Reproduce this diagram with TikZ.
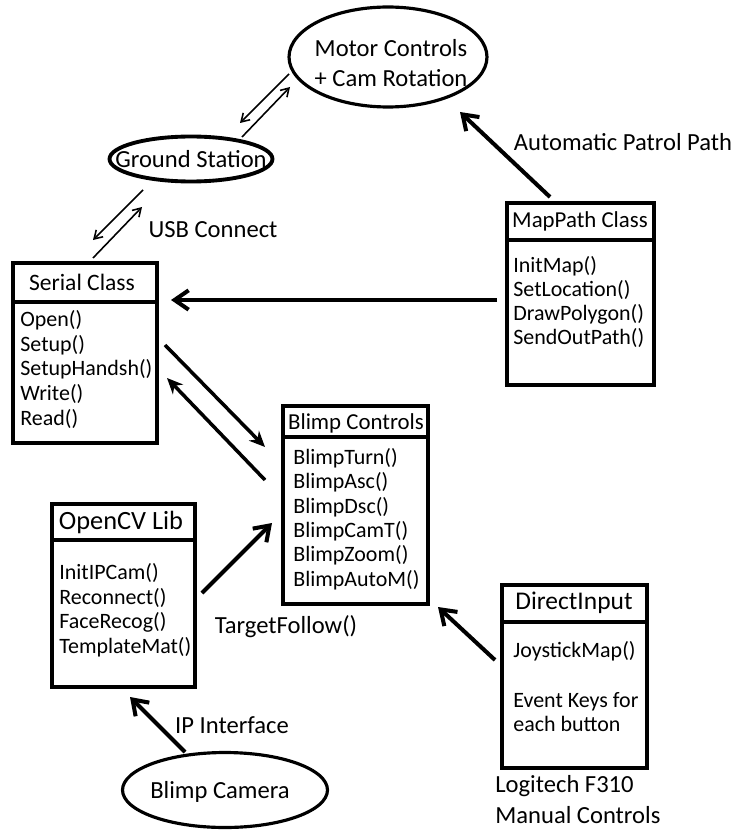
\documentclass[tikz,border=0pt]{standalone}
\usepackage{fontspec}
\setmainfont{Carlito}
\usetikzlibrary{arrows.meta,shapes.geometric}

\begin{document}
\begin{tikzpicture}[x=0.02cm, y=-0.02cm,
  classbox/.style={line width=2pt},
  oval/.style={draw, ellipse, line width=1.8pt, inner sep=0pt},
  lbl/.style={font=\fontsize{14}{17}\selectfont, inner sep=0pt},
  head/.style={font=\fontsize{13}{16}\selectfont, inner sep=0pt},
  item/.style={anchor=west, font=\fontsize{12.5}{15}\selectfont, inner sep=0pt, text height=8pt, text depth=3pt},
  bigarrow/.style={line width=2.3pt, -{Straight Barb[length=8pt,width=11pt]}},
  duplex/.style={line width=2pt, -{Stealth[length=9pt,width=8pt]}},
  thinarrow/.style={line width=0.9pt, -{Straight Barb[length=4.5pt,width=5.5pt]}}]
  \useasboundingbox (0,0) rectangle (735,831);

  % ovals
  \node[oval, minimum width=3.96cm, minimum height=2cm] (motor) at (388,57) {};
  \node[lbl, align=center] (motortxt) at (391,63) {Motor Controls\\+ Cam Rotation};
  \node[oval, line width=2.2pt, minimum width=3.26cm, minimum height=0.9cm] (ground) at (191,159) {};
  \node[lbl] (groundtxt) at (ground) {Ground Station};
  \node[oval, minimum width=4.1cm, minimum height=1.5cm] (camera) at (225,790) {};
  \node[lbl] (cameratxt) at (220,792) {Blimp Camera};

  % Serial Class
  \draw[classbox] (13,263) rectangle (157,443) (13,302) -- (157,302);
  \node[head, font=\fontsize{13.4}{16}\selectfont] (serialhd) at (82,282) {Serial Class};
  \foreach \t [count=\i from 0] in {{Open()},{Setup()},{SetupHandsh()},{Write()},{Read()}}
    \node[item] (serial\i) at (20,322+24.8*\i) {\t};

  % MapPath Class
  \draw[classbox] (507,203) rectangle (654,385) (507,240) -- (654,240);
  \node[head] (maphd) at (580,221) {MapPath Class};
  \foreach \t [count=\i from 0] in {{InitMap()},{SetLocation()},{DrawPolygon()},{SendOutPath()}}
    \node[item] (map\i) at (513,268+24*\i) {\t};

  % Blimp Controls
  \draw[classbox] (283,406) rectangle (428,604) (283,437) -- (428,437);
  \node[head] (blimphd) at (356,423) {Blimp Controls};
  \foreach \t [count=\i from 0] in {{BlimpTurn()},{BlimpAsc()},{BlimpDsc()},{BlimpCamT()},{BlimpZoom()},{BlimpAutoM()}}
    \node[item] (blimp\i) at (293,460+24.4*\i) {\t};

  % OpenCV Lib
  \draw[classbox] (52,504) rectangle (195,687) (52,540) -- (195,540);
  \node[head, font=\fontsize{15}{18}\selectfont] (cvhd) at (121,522) {OpenCV Lib};
  \foreach \t [count=\i from 0] in {{InitIPCam()},{Reconnect()},{FaceRecog()},{TemplateMat()}}
    \node[item] (cv\i) at (59,575+24.7*\i) {\t};

  % DirectInput
  \draw[classbox] (502,585) rectangle (647,768) (502,622) -- (647,622);
  \node[head, font=\fontsize{14.5}{17}\selectfont] (dihd) at (574,603) {DirectInput};
  \node[item] (di0) at (513,653) {JoystickMap()};
  \node[item] (di1) at (513,703) {Event Keys for};
  \node[item] (di2) at (513,727) {each button};

  % arrow ends
  \coordinate (gm1) at (289,74);  \coordinate (gm2) at (240,123);
  \coordinate (gm3) at (242,137); \coordinate (gm4) at (290,87);
  \coordinate (us1) at (143,190); \coordinate (us2) at (93,240);
  \coordinate (us3) at (93,258);  \coordinate (us4) at (142,207);
  \coordinate (mpout) at (497,300); \coordinate (scin) at (171,300);
  \coordinate (mpup) at (550,197);  \coordinate (mcin) at (460,112);
  \coordinate (sb1) at (165,345); \coordinate (sb2) at (265,447);
  \coordinate (sb3) at (265,480); \coordinate (sb4) at (167,378);
  \coordinate (cvout) at (202,593); \coordinate (bcin) at (272,523);
  \coordinate (camout) at (185,752); \coordinate (cvin) at (130,697);
  \coordinate (diout) at (495,660); \coordinate (bcin2) at (438,607);

  \draw[thinarrow] (gm1) -- (gm2);
  \draw[thinarrow] (gm3) -- (gm4);
  \draw[thinarrow] (us1) -- (us2);
  \draw[thinarrow] (us3) -- (us4);
  \draw[bigarrow] (mpout) -- (scin);
  \draw[bigarrow] (mpup) -- (mcin);
  \draw[duplex] (sb1) -- (sb2);
  \draw[duplex] (sb3) -- (sb4);
  \draw[bigarrow] (cvout) -- (bcin);
  \draw[bigarrow] (camout) -- (cvin);
  \draw[bigarrow] (diout) -- (bcin2);

  % labels
  \node[lbl] (patrol) at (623,142) {Automatic Patrol Path};
  \node[lbl] (usb) at (213,230) {USB Connect};
  \node[lbl] (follow) at (286,627) {TargetFollow()};
  \node[lbl] (ip) at (232,725) {IP Interface};
  \node[lbl, anchor=west] (logi) at (495,786) {Logitech F310};
  \node[lbl, anchor=west] (manual) at (495,815) {Manual Controls};
\end{tikzpicture}
\end{document}
